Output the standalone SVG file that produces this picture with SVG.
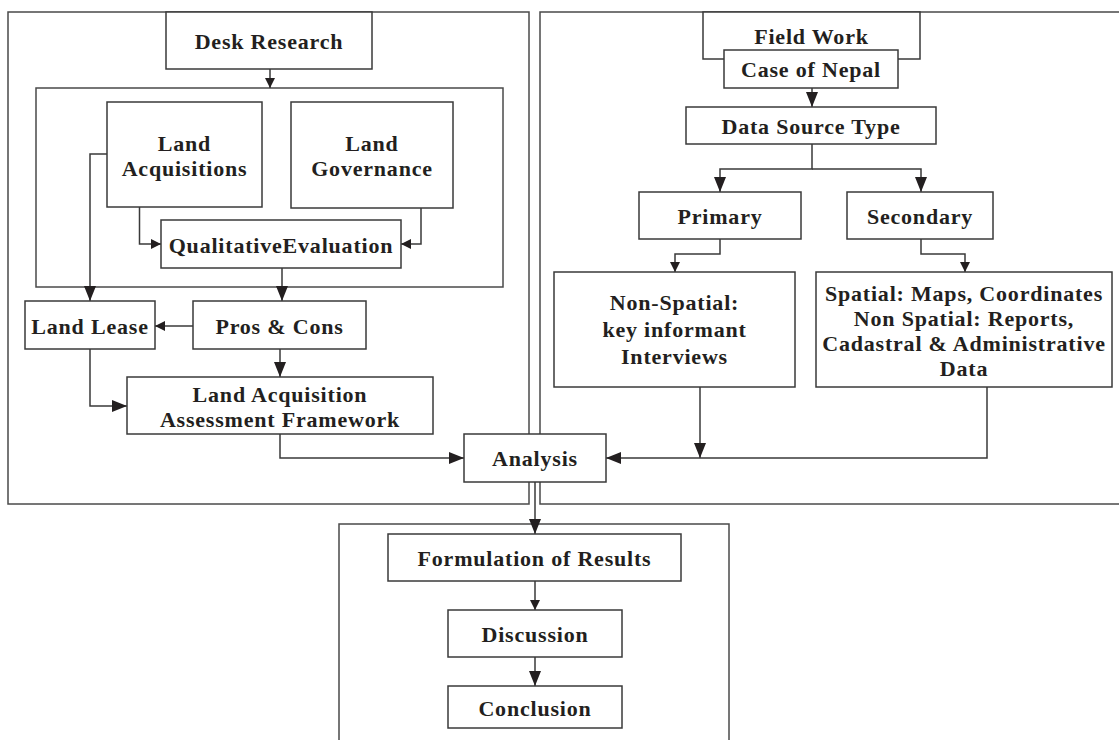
<svg xmlns="http://www.w3.org/2000/svg" width="1119" height="740" viewBox="0 0 1119 740">
<defs>
<style>
.panel{fill:none;stroke:#4a4a4a;stroke-width:1.5}
.box{fill:#fff;stroke:#3a3a3a;stroke-width:1.5}
.c{fill:none;stroke:#3a3a3a;stroke-width:1.5}
text{font-family:"Liberation Serif","Times New Roman",serif;font-weight:bold;font-size:22px;letter-spacing:0.8px;fill:#231f20;text-anchor:middle;dominant-baseline:central}
</style>
<marker id="big" markerUnits="userSpaceOnUse" markerWidth="16" markerHeight="12" refX="15" refY="6" orient="auto">
<path d="M0,0 L15,6 L0,12 Z" fill="#231f20"/>
</marker>
<marker id="sm" markerUnits="userSpaceOnUse" markerWidth="11" markerHeight="10" refX="10" refY="5" orient="auto">
<path d="M0,0 L10,5 L0,10 Z" fill="#231f20"/>
</marker>
</defs>
<rect id="rect" width="1119" height="740" fill="#fff"/>
<g id="panels">
<rect class="panel" x="8" y="12" width="521" height="492"/>
<rect class="panel" x="540" y="12" width="600" height="492"/>
<rect class="panel" x="339" y="524" width="390" height="240"/>
<rect class="panel" x="36" y="88" width="467" height="199"/>
</g>
<g id="connectors">
<path class="c" d="M270,69 V88" marker-end="url(#sm)"/>
<path class="c" d="M139.5,207 V244 H161" marker-end="url(#sm)"/>
<path class="c" d="M421,208 V244 H401" marker-end="url(#sm)"/>
<path class="c" d="M107,154 H90 V301" marker-end="url(#big)"/>
<path class="c" d="M282,268 V301" marker-end="url(#big)"/>
<path class="c" d="M193,326 H155" marker-end="url(#sm)"/>
<path class="c" d="M280,349 V377" marker-end="url(#big)"/>
<path class="c" d="M90,349 V406 H127" marker-end="url(#big)"/>
<path class="c" d="M280,434 V458 H464" marker-end="url(#big)"/>
<path class="c" d="M812,88 V107" marker-end="url(#big)"/>
<path class="c" d="M812,144 V169 H720 V192" marker-end="url(#big)"/>
<path class="c" d="M812,169 H921 V192" marker-end="url(#big)"/>
<path class="c" d="M720,239 V254 H675 V272" marker-end="url(#sm)"/>
<path class="c" d="M921,239 V254 H965 V272" marker-end="url(#sm)"/>
<path class="c" d="M700,387 V458" marker-end="url(#big)"/>
<path class="c" d="M987,387 V458 H606" marker-end="url(#big)"/>
<path class="c" d="M535,482 V534" marker-end="url(#big)"/>
<path class="c" d="M535,581 V610" marker-end="url(#sm)"/>
<path class="c" d="M535,657 V686" marker-end="url(#big)"/>
</g>
<g id="desk-research"><rect class="box" x="166" y="12" width="206" height="57"/><text x="269" y="41">Desk Research</text></g>
<g id="land-acquisitions"><rect class="box" x="107" y="102" width="155" height="105"/><text x="184.5" y="143">Land</text><text x="184.5" y="168">Acquisitions</text></g>
<g id="land-governance"><rect class="box" x="291" y="102" width="162" height="106"/><text x="372" y="143">Land</text><text x="372" y="168">Governance</text></g>
<g id="qualitative-evaluation"><rect class="box" x="161" y="220" width="240" height="48"/><text x="281" y="245">QualitativeEvaluation</text></g>
<g id="land-lease"><rect class="box" x="25" y="301" width="130" height="48"/><text x="90" y="326">Land Lease</text></g>
<g id="pros-cons"><rect class="box" x="193" y="301" width="173" height="48"/><text x="279.5" y="326">Pros &amp; Cons</text></g>
<g id="laaf"><rect class="box" x="127" y="377" width="306" height="57"/><text x="280" y="394">Land Acquisition</text><text x="280" y="419">Assessment Framework</text></g>
<g id="analysis"><rect class="box" x="464" y="434" width="142" height="48"/><text x="535" y="458">Analysis</text></g>
<g id="field-work"><rect class="box" x="703" y="12" width="217" height="47"/><text x="811.5" y="36">Field Work</text></g>
<g id="case-of-nepal"><rect class="box" x="724" y="50" width="174" height="38"/><text x="811" y="69">Case of Nepal</text></g>
<g id="data-source-type"><rect class="box" x="686" y="107" width="250" height="37"/><text x="811" y="126">Data Source Type</text></g>
<g id="primary"><rect class="box" x="639" y="192" width="162" height="47"/><text x="720" y="216">Primary</text></g>
<g id="secondary"><rect class="box" x="847" y="192" width="146" height="47"/><text x="920" y="216">Secondary</text></g>
<g id="non-spatial"><rect class="box" x="554" y="272" width="241" height="115"/><text x="674.5" y="302">Non-Spatial:</text><text x="674.5" y="329">key informant</text><text x="674.5" y="356">Interviews</text></g>
<g id="spatial"><rect class="box" x="816" y="272" width="296" height="115"/><text x="964" y="293">Spatial: Maps, Coordinates</text><text x="964" y="318">Non Spatial: Reports,</text><text x="964" y="343">Cadastral &amp; Administrative</text><text x="964" y="368">Data</text></g>
<g id="formulation"><rect class="box" x="388" y="534" width="293" height="47"/><text x="534.5" y="558">Formulation of Results</text></g>
<g id="discussion"><rect class="box" x="448" y="610" width="174" height="47"/><text x="535" y="634">Discussion</text></g>
<g id="conclusion"><rect class="box" x="448" y="686" width="174" height="42"/><text x="535" y="708">Conclusion</text></g>
</svg>
